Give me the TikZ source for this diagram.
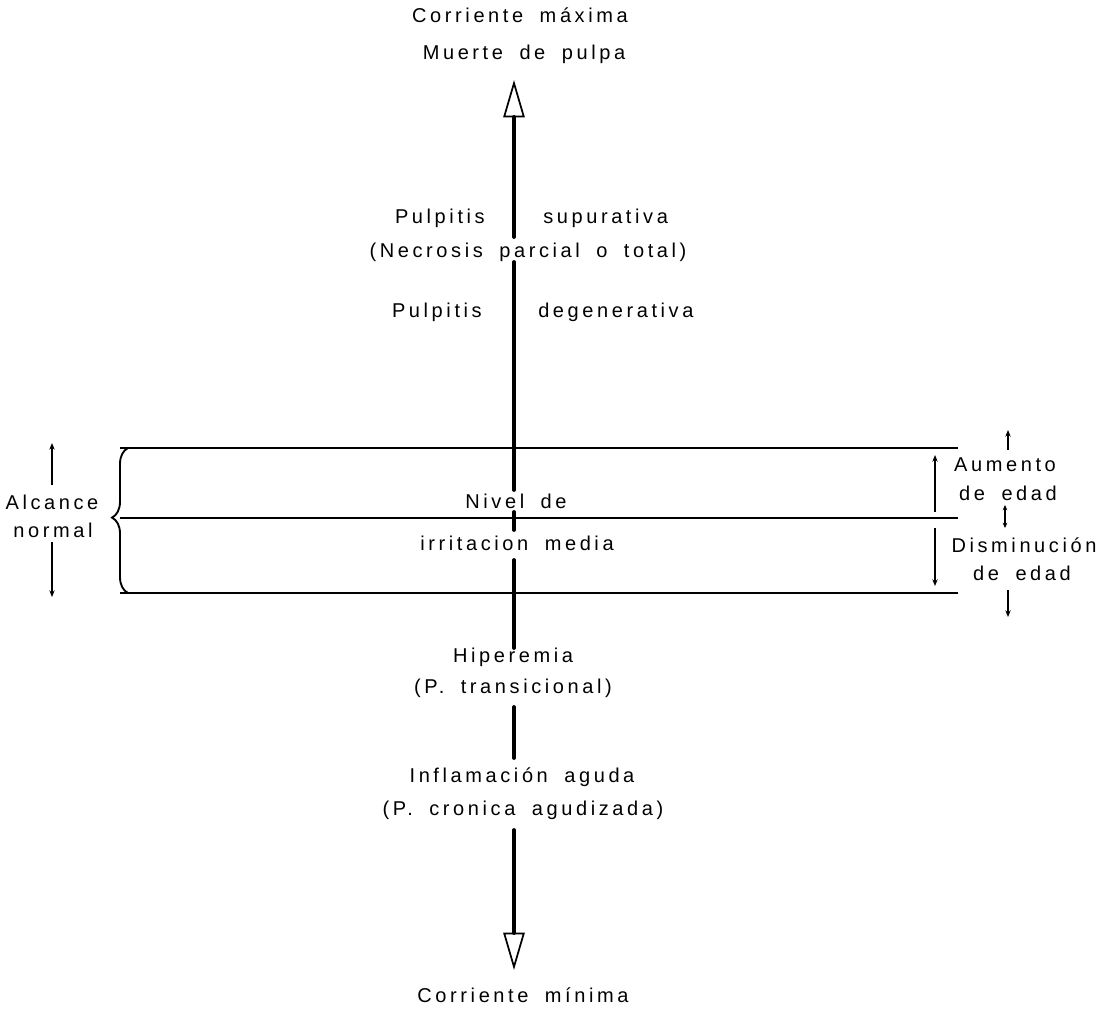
\documentclass[tikz,border=0pt]{standalone}
\usepackage{fontspec}
\setmainfont{Liberation Sans}
\newfontfamily\lab{Liberation Sans}[LetterSpace=18,WordSpace=1.8]
\usetikzlibrary{arrows.meta,decorations.pathreplacing}
\begin{document}
\begin{tikzpicture}[x=0.75pt,y=-0.75pt,
  lbl/.style={font=\lab\fontsize{15}{18}\selectfont, inner sep=0pt},
  axisline/.style={line width=2.8pt, line cap=round},
  bigtip/.style={-{Triangle[open,length=28pt,width=16pt,line width=1.3pt]}},
  levelline/.style={line width=2.2pt},
  smallarrow/.style={line width=1pt,-{Stealth[length=5pt,width=4pt]}},
  twoarrow/.style={line width=1pt,{Stealth[length=4pt,width=3.5pt]}-{Stealth[length=4pt,width=3.5pt]}},
  bracestyle/.style={line width=1.4pt, decorate, decoration={brace, amplitude=12pt, aspect=0.52}}]
\useasboundingbox (0,0) rectangle (1101,1010);
\fill[white] (0,0) rectangle (1101,1010);

% texts
\node[lbl] (cmax) at (520,15) {Corriente máxima};
\node[lbl] (muerte) at (524,54) {Muerte de pulpa};
\node[lbl, anchor=east] (pulp1) at (485,218) {Pulpitis};
\node[lbl, anchor=west] (sup) at (543,218) {supurativa};
\node[lbl] (necro) at (528,252) {(Necrosis parcial o total)};
\node[lbl, anchor=east] (pulp2) at (482,312) {Pulpitis};
\node[lbl, anchor=west] (deg) at (538,312) {degenerativa};
\node[lbl] (nivel) at (516,501) {Nivel de};
\node[lbl] (irr) at (517,543) {irritacion media};
\node[lbl] (hip) at (513,657) {Hiperemia};
\node[lbl] (trans) at (513,688) {(P. transicional)};
\node[lbl] (infl) at (522,777) {Inflamación aguda};
\node[lbl] (cron) at (523,810) {(P. cronica agudizada)};
\node[lbl] (cmin) at (523,995) {Corriente mínima};
\node[lbl] (alc) at (52,502) {Alcance};
\node[lbl] (norm) at (53,530) {normal};
\node[lbl] (aum) at (1005,465) {Aumento};
\node[lbl] (de1) at (1008,493) {de edad};
\node[lbl] (dism) at (1024,545) {Disminución};
\node[lbl] (de2) at (1022,573) {de edad};

% axis coordinates
\coordinate (tipTop) at (514,80);
\coordinate (a1) at (514,237);
\coordinate (b0) at (514,262);
\coordinate (b1) at (514,490);
\coordinate (c0) at (514,512);
\coordinate (c1) at (514,530);
\coordinate (d0) at (514,560);
\coordinate (d1) at (514,648);
\coordinate (e0) at (514,707);
\coordinate (e1) at (514,758);
\coordinate (f0) at (514,830);
\coordinate (tipBot) at (514,970);

\draw[axisline, bigtip] (a1) -- (tipTop);
\draw[axisline] (b0) -- (b1);
\draw[axisline] (c0) -- (c1);
\draw[axisline] (d0) -- (d1);
\draw[axisline] (e0) -- (e1);
\draw[axisline, bigtip] (f0) -- (tipBot);

% level lines
\coordinate (tl) at (120,448); \coordinate (tr) at (958,448);
\coordinate (ml) at (120,518); \coordinate (mr) at (958,518);
\coordinate (bl) at (120,593); \coordinate (br) at (958,593);
\draw[levelline] (tl) -- (tr);
\draw[levelline] (ml) -- (mr);
\draw[levelline] (bl) -- (br);

% brace
\coordinate (brB) at (128,593); \coordinate (brT) at (128,448);
\draw[bracestyle] (brB) -- (brT);

% left arrows
\coordinate (la0) at (52,485); \coordinate (la1) at (52,443);
\coordinate (lb0) at (52,542); \coordinate (lb1) at (52,597);
\draw[smallarrow] (la0) -- (la1);
\draw[smallarrow] (lb0) -- (lb1);

% right dimension arrows
\coordinate (ra0) at (935,512); \coordinate (ra1) at (935,455);
\coordinate (rb0) at (935,528); \coordinate (rb1) at (935,586);
\draw[smallarrow] (ra0) -- (ra1);
\draw[smallarrow] (rb0) -- (rb1);

% age arrows
\coordinate (ua0) at (1008,450); \coordinate (ua1) at (1008,430);
\coordinate (ma0) at (1005,505); \coordinate (ma1) at (1005,528);
\coordinate (da0) at (1008,590); \coordinate (da1) at (1008,617);
\draw[smallarrow] (ua0) -- (ua1);
\draw[twoarrow] (ma0) -- (ma1);
\draw[smallarrow] (da0) -- (da1);
\end{tikzpicture}
\end{document}
